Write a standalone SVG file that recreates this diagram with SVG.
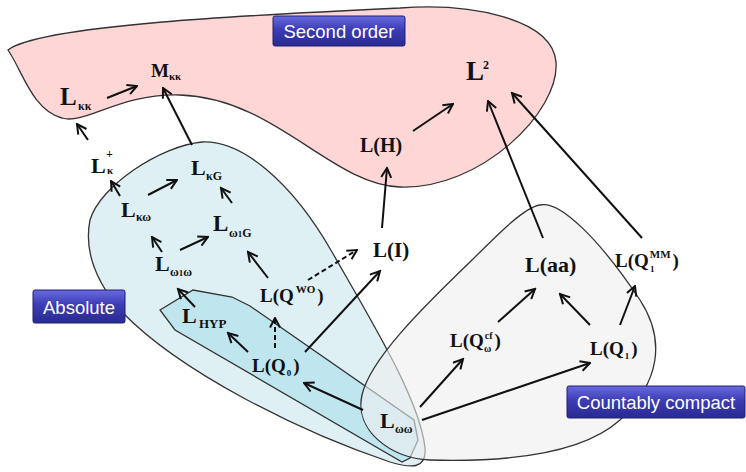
<svg xmlns="http://www.w3.org/2000/svg" width="746" height="472" viewBox="0 0 746 472">
<style>
.rg{stroke:#333;stroke-width:1.3}
.n{font-family:"Liberation Serif","Times New Roman",serif;font-weight:bold;fill:#111}
.c{fill:none;stroke:#111;stroke-width:2}
.d{stroke-dasharray:5,3}
.lb{font-family:"Liberation Sans",Arial,sans-serif;font-size:18.5px;fill:#fff;text-anchor:middle}
.bx{fill:url(#bg);stroke:#1e1e70;stroke-width:1}
</style>
<defs>
<linearGradient id="bg" x1="0" y1="0" x2="0" y2="1">
<stop offset="0" stop-color="#6a6ae0"/>
<stop offset="0.45" stop-color="#3c3cb4"/>
<stop offset="1" stop-color="#2a2a92"/>
</linearGradient>
<marker id="ah" viewBox="0 0 12 12" refX="10.5" refY="6" markerWidth="12" markerHeight="12" orient="auto" markerUnits="userSpaceOnUse">
<path d="M1,1 L10.5,6 L1,11" fill="none" stroke="#111" stroke-width="2"/>
</marker>
</defs>
<rect width="746" height="472" fill="#fff"/>
<g id="regions">
<path id="second-order-region" class="rg" fill="#ffd6d6" d="M8,50 C40,25 250,15 400,8 C470,3 552,18 556,62 C560,112 480,190 400,187 C330,184 275,98 180,95 C120,93 85,125 62,118 C32,110 22,70 8,50 Z"/>
<path id="absolute-region" class="rg" fill="#dff0f4" d="M202,142 C242,140 292,182 332,252 C372,322 420,400 425,448 C427,470 410,468 390,462 C300,432 180,372 122,312 C96,282 84,250 90,220 C100,186 160,146 202,142 Z"/>
<path id="hyp-region" class="rg" fill="#bfe6ef" d="M160,310 L193,290 L232,297 L250,306 L414,420 L418,440 L410,458 L402,462 L175,330 Z"/>
<path id="cc-region" class="rg" fill="#eeeeee" fill-opacity="0.6" d="M540,205 C560,200 600,240 640,300 C666,340 660,382 620,420 C580,456 500,462 430,460 C390,458 354,430 362,395 C370,360 420,310 470,262 C500,232 525,207 540,205 Z"/>
</g>
<g id="connectors">
<line class="c" x1="107" y1="98" x2="137" y2="86" marker-end="url(#ah)"/>
<line class="c" x1="88" y1="140" x2="77" y2="124" marker-end="url(#ah)"/>
<line class="c" x1="192" y1="145" x2="163" y2="88" marker-end="url(#ah)"/>
<line class="c" x1="120" y1="196" x2="111" y2="181" marker-end="url(#ah)"/>
<line class="c" x1="148" y1="195" x2="177" y2="180" marker-end="url(#ah)"/>
<line class="c" x1="232" y1="203" x2="221" y2="188" marker-end="url(#ah)"/>
<line class="c" x1="162" y1="252" x2="152" y2="237" marker-end="url(#ah)"/>
<line class="c" x1="180" y1="250" x2="208" y2="237" marker-end="url(#ah)"/>
<line class="c" x1="268" y1="278" x2="248" y2="252" marker-end="url(#ah)"/>
<line class="c" x1="195" y1="307" x2="178" y2="289" marker-end="url(#ah)"/>
<line class="c d" x1="308" y1="280" x2="357" y2="250" marker-end="url(#ah)"/>
<line class="c d" x1="275" y1="348" x2="275" y2="318" marker-end="url(#ah)"/>
<line class="c" x1="248" y1="352" x2="228" y2="333" marker-end="url(#ah)"/>
<line class="c" x1="305" y1="352" x2="380" y2="271" marker-end="url(#ah)"/>
<line class="c" x1="363" y1="410" x2="304" y2="383" marker-end="url(#ah)"/>
<line class="c" x1="382" y1="228" x2="387" y2="168" marker-end="url(#ah)"/>
<line class="c" x1="413" y1="131" x2="453" y2="104" marker-end="url(#ah)"/>
<line class="c" x1="543" y1="238" x2="488" y2="101" marker-end="url(#ah)"/>
<line class="c" x1="642" y1="238" x2="512" y2="93" marker-end="url(#ah)"/>
<line class="c" x1="420" y1="407" x2="463" y2="359" marker-end="url(#ah)"/>
<line class="c" x1="422" y1="420" x2="590" y2="363" marker-end="url(#ah)"/>
<line class="c" x1="498" y1="322" x2="535" y2="289" marker-end="url(#ah)"/>
<line class="c" x1="590" y1="325" x2="560" y2="294" marker-end="url(#ah)"/>
<line class="c" x1="620" y1="325" x2="635" y2="286" marker-end="url(#ah)"/>
</g>
<g id="L-kk"><text class="n" x="60" y="105" font-size="25">L</text><text class="n" x="78" y="110" font-size="12">κκ</text></g>
<g id="M-kk"><text class="n" x="151" y="77" font-size="19">M</text><text class="n" x="169" y="80" font-size="11">κκ</text></g>
<g id="L2"><text class="n" x="466" y="80" font-size="27">L</text><text class="n" x="483" y="69" font-size="12">2</text></g>
<g id="L-H"><text class="n" x="360" y="152" font-size="20">L(H)</text></g>
<g id="L-plus-k"><text class="n" x="91" y="173" font-size="22">L</text><text class="n" x="106" y="158" font-size="12">+</text><text class="n" x="107" y="174" font-size="11">κ</text></g>
<g id="L-kG"><text class="n" x="191" y="175" font-size="22">L</text><text class="n" x="206" y="180" font-size="12">κG</text></g>
<g id="L-kw"><text class="n" x="121" y="217" font-size="22">L</text><text class="n" x="136" y="221" font-size="12">κω</text></g>
<g id="L-w1G"><text class="n" x="213" y="231" font-size="23">L</text><text class="n" x="229" y="237" font-size="12">ω<tspan font-size="9">1</tspan>G</text></g>
<g id="L-w1w"><text class="n" x="155" y="271" font-size="22">L</text><text class="n" x="170" y="276" font-size="12">ω<tspan font-size="9">1</tspan>ω</text></g>
<g id="L-QWO"><text class="n" x="260" y="302" font-size="19">L(Q<tspan font-size="11" dy="-9" dx="2">WO</tspan><tspan dy="9" dx="2">)</tspan></text></g>
<g id="L-HYP"><text class="n" x="182" y="323" font-size="22">L</text><text class="n" x="199" y="328" font-size="13">HYP</text></g>
<g id="L-Q0"><text class="n" x="252" y="372" font-size="19">L(Q<tspan font-size="9" dy="4" dx="1">0</tspan><tspan dy="-4" dx="2">)</tspan></text></g>
<g id="L-ww"><text class="n" x="380" y="428" font-size="22">L</text><text class="n" x="395" y="433" font-size="12">ωω</text></g>
<g id="L-I"><text class="n" x="373" y="257" font-size="21">L(I)</text></g>
<g id="L-aa"><text class="n" x="525" y="272" font-size="22">L(aa)</text></g>
<g id="L-Q1MM"><text class="n" x="615" y="267" font-size="19">L(Q<tspan font-size="11" dy="-9" dx="1">MM</tspan><tspan dy="9" dx="2">)</tspan></text><text class="n" x="650" y="272" font-size="9">1</text></g>
<g id="L-Qcf"><text class="n" x="450" y="347" font-size="19">L(Q<tspan font-size="10" dy="-8" dx="1">cf</tspan><tspan dy="8" dx="2">)</tspan></text><text class="n" x="484" y="352" font-size="10">ω</text></g>
<g id="L-Q1"><text class="n" x="590" y="355" font-size="19">L(Q<tspan font-size="9" dy="4" dx="1">1</tspan><tspan dy="-4" dx="2">)</tspan></text></g>
<g id="label-second-order"><rect class="bx" x="273" y="16" width="132" height="30" rx="2"/><text class="lb" x="339" y="38">Second order</text></g>
<g id="label-absolute"><rect class="bx" x="33" y="290" width="92" height="33" rx="2"/><text class="lb" x="79" y="314">Absolute</text></g>
<g id="label-countably-compact"><rect class="bx" x="567" y="386" width="178" height="32" rx="2"/><text class="lb" x="656" y="409">Countably compact</text></g>
</svg>
